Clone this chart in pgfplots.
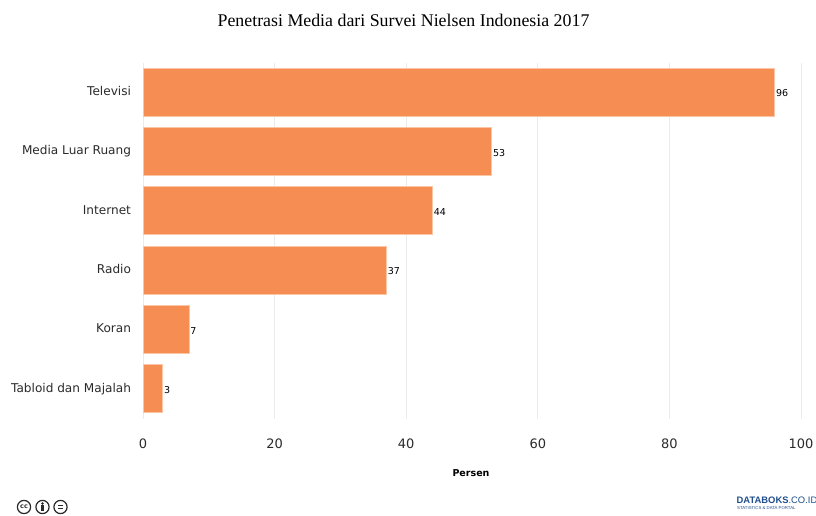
\documentclass[border=0pt]{standalone}
\usepackage{pgfplots}
\pgfplotsset{compat=1.18}
\usepackage{fontspec}
\setmainfont{DejaVu Sans}
\newfontfamily\titlefont{Liberation Serif}
\newfontfamily\brandfont{Liberation Sans}
\definecolor{barfill}{HTML}{F68D52}
\definecolor{baredge}{HTML}{FBC6A6}
\definecolor{gridc}{HTML}{EBEBEB}
\definecolor{inkc}{HTML}{2A2A2A}
\definecolor{brandc}{HTML}{1F4E8C}
\begin{document}
\begin{tikzpicture}[x=1pt,y=1pt]
\useasboundingbox (0,0) rectangle (816,515);
\begin{axis}[
  at={(143pt,96.5pt)}, anchor=south west,
  scale only axis, width=658pt, height=356pt,
  xmin=0, xmax=100, ymin=-0.5, ymax=5.5, y dir=reverse,
  axis line style={draw=none},
  xtick={0,20,40,60,80,100},
  ytick={0,1,2,3,4,5},
  yticklabels={Televisi,Media Luar Ruang,Internet,Radio,Koran,Tabloid dan Majalah},
  tick style={draw=none},
  xmajorgrids, major grid style={gridc,line width=0.8pt},
  /pgf/number format/assume math mode=true,
  tick label style={text=inkc},
  yticklabel style={font=\fontsize{12.1}{14}\selectfont,xshift=-8.5pt,text height=9pt,text depth=2.5pt},
  xticklabel style={font=\fontsize{13}{15}\selectfont,yshift=-17pt},
  clip=false,
]
\addplot[xbar, bar width=48pt, fill=barfill, draw=baredge, line width=0.8pt,
  nodes near coords, nodes near coords align={anchor=west},
  every node near coord/.append style={font=\fontsize{9.5}{11}\selectfont,text=black,inner sep=1pt,yshift=-1.2pt,/pgf/number format/assume math mode=true}]
  coordinates {(96,0) (53,1) (44,2) (37,3) (7,4) (3,5)};
\end{axis}
\node[font=\titlefont\fontsize{17.85}{20}\selectfont,text=black] at (403.5,495) {Penetrasi Media dari Survei Nielsen Indonesia 2017};
\node[font=\bfseries\fontsize{9.5}{11}\selectfont,text=black] at (471,42) {Persen};
% licence badges
\foreach \cx in {24,42.5,60.5}{
  \draw[inkc,line width=1.2pt] (\cx,8) circle (6.6);
}
\node[font=\bfseries\fontsize{6.5}{6}\selectfont,text=inkc,inner sep=0] at (24,8) {cc};
\fill[inkc] (42.5,11.6) circle (1.4);
\fill[inkc] (41,3.8) rectangle (44,9.6);
\fill[inkc] (58,9) rectangle (63,10.3);
\fill[inkc] (58,5.7) rectangle (63,7);
% publisher mark
\node[anchor=west,inner sep=0,text=brandc,font=\brandfont\fontsize{9.4}{12}\selectfont] at (736.5,15) {\textbf{DATABOKS}.CO.ID};
\node[anchor=west,inner sep=0,text=brandc,font=\brandfont\fontsize{4.3}{5}\selectfont] at (737,7) {STATISTICS \& DATA PORTAL};
\end{tikzpicture}
\end{document}
